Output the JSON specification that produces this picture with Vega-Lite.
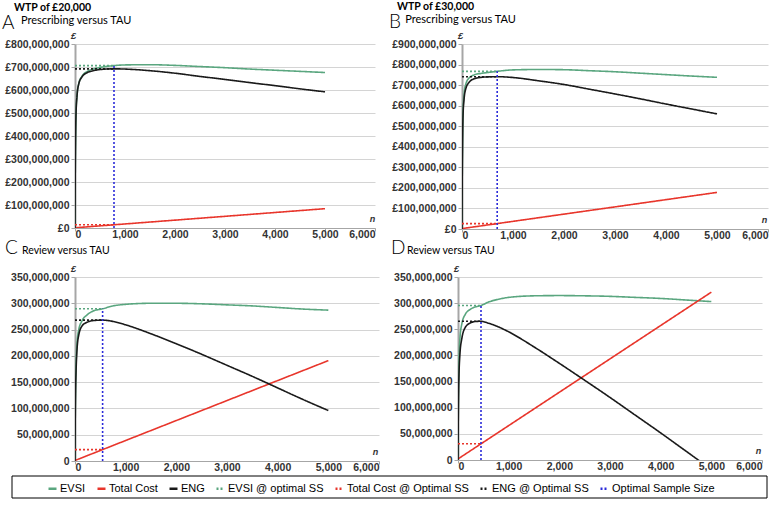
{
  "$schema": "https://vega.github.io/schema/vega-lite/v6.json",
  "padding": {"left": 2, "top": 1, "right": 0, "bottom": 0},
  "background": "white",
  "datasets": {
    "A": [
      {"s":"EVSI","n":0,"v":0},{"s":"EVSI","n":5,"v":250},{"s":"EVSI","n":10,"v":372},{"s":"EVSI","n":20,"v":495},{"s":"EVSI","n":40,"v":575},{"s":"EVSI","n":75,"v":628},{"s":"EVSI","n":140,"v":660},{"s":"EVSI","n":240,"v":680},{"s":"EVSI","n":350,"v":690},{"s":"EVSI","n":500,"v":698},{"s":"EVSI","n":780,"v":706},{"s":"EVSI","n":1000,"v":709},{"s":"EVSI","n":1500,"v":710},{"s":"EVSI","n":2000,"v":707},{"s":"EVSI","n":2500,"v":702},{"s":"EVSI","n":3000,"v":697},{"s":"EVSI","n":3500,"v":691},{"s":"EVSI","n":4000,"v":686},{"s":"EVSI","n":4500,"v":681},{"s":"EVSI","n":5000,"v":676},
      {"s":"Total Cost","n":0,"v":1},{"s":"Total Cost","n":5000,"v":84},
      {"s":"ENG","n":0,"v":0},{"s":"ENG","n":5,"v":249},{"s":"ENG","n":10,"v":371},{"s":"ENG","n":20,"v":494},{"s":"ENG","n":40,"v":573},{"s":"ENG","n":75,"v":626},{"s":"ENG","n":140,"v":657},{"s":"ENG","n":240,"v":675},{"s":"ENG","n":350,"v":683},{"s":"ENG","n":500,"v":689},{"s":"ENG","n":780,"v":692},{"s":"ENG","n":1000,"v":691},{"s":"ENG","n":1500,"v":684},{"s":"ENG","n":2000,"v":673},{"s":"ENG","n":2500,"v":659},{"s":"ENG","n":3000,"v":646},{"s":"ENG","n":3500,"v":632},{"s":"ENG","n":4000,"v":619},{"s":"ENG","n":4500,"v":605},{"s":"ENG","n":5000,"v":592},
      {"s":"EVSI @ optimal SS","n":0,"v":706},{"s":"EVSI @ optimal SS","n":780,"v":706},
      {"s":"Total Cost @ Optimal SS","n":0,"v":14},{"s":"Total Cost @ Optimal SS","n":780,"v":14},
      {"s":"ENG @ Optimal SS","n":0,"v":692},{"s":"ENG @ Optimal SS","n":780,"v":692},
      {"s":"Optimal Sample Size","n":780,"v":0},{"s":"Optimal Sample Size","n":780,"v":706}
    ],
    "B": [
      {"s":"EVSI","n":0,"v":0},{"s":"EVSI","n":5,"v":280},{"s":"EVSI","n":10,"v":420},{"s":"EVSI","n":20,"v":570},{"s":"EVSI","n":40,"v":655},{"s":"EVSI","n":75,"v":705},{"s":"EVSI","n":140,"v":735},{"s":"EVSI","n":240,"v":750},{"s":"EVSI","n":350,"v":756},{"s":"EVSI","n":500,"v":761},{"s":"EVSI","n":690,"v":767},{"s":"EVSI","n":1000,"v":774},{"s":"EVSI","n":1500,"v":776},{"s":"EVSI","n":2000,"v":775},{"s":"EVSI","n":2500,"v":770},{"s":"EVSI","n":3000,"v":765},{"s":"EVSI","n":3500,"v":758},{"s":"EVSI","n":4000,"v":751},{"s":"EVSI","n":4500,"v":744},{"s":"EVSI","n":5000,"v":738},
      {"s":"Total Cost","n":0,"v":2},{"s":"Total Cost","n":5000,"v":178},
      {"s":"ENG","n":0,"v":0},{"s":"ENG","n":5,"v":270},{"s":"ENG","n":10,"v":405},{"s":"ENG","n":20,"v":550},{"s":"ENG","n":40,"v":630},{"s":"ENG","n":75,"v":683},{"s":"ENG","n":140,"v":714},{"s":"ENG","n":240,"v":731},{"s":"ENG","n":350,"v":737},{"s":"ENG","n":500,"v":740},{"s":"ENG","n":690,"v":741},{"s":"ENG","n":1000,"v":737},{"s":"ENG","n":1500,"v":721},{"s":"ENG","n":2000,"v":703},{"s":"ENG","n":2500,"v":680},{"s":"ENG","n":3000,"v":657},{"s":"ENG","n":3500,"v":633},{"s":"ENG","n":4000,"v":608},{"s":"ENG","n":4500,"v":584},{"s":"ENG","n":5000,"v":560},
      {"s":"EVSI @ optimal SS","n":0,"v":767},{"s":"EVSI @ optimal SS","n":690,"v":767},
      {"s":"Total Cost @ Optimal SS","n":0,"v":26},{"s":"Total Cost @ Optimal SS","n":690,"v":26},
      {"s":"ENG @ Optimal SS","n":0,"v":741},{"s":"ENG @ Optimal SS","n":690,"v":741},
      {"s":"Optimal Sample Size","n":690,"v":0},{"s":"Optimal Sample Size","n":690,"v":767}
    ],
    "C": [
      {"s":"EVSI","n":0,"v":0},{"s":"EVSI","n":5,"v":90},{"s":"EVSI","n":10,"v":135},{"s":"EVSI","n":20,"v":180},{"s":"EVSI","n":40,"v":225},{"s":"EVSI","n":75,"v":250},{"s":"EVSI","n":140,"v":267},{"s":"EVSI","n":240,"v":278},{"s":"EVSI","n":350,"v":285},{"s":"EVSI","n":545,"v":289.5},{"s":"EVSI","n":750,"v":295},{"s":"EVSI","n":1000,"v":298},{"s":"EVSI","n":1500,"v":300},{"s":"EVSI","n":2000,"v":300},{"s":"EVSI","n":2500,"v":299},{"s":"EVSI","n":3000,"v":297},{"s":"EVSI","n":3500,"v":295},{"s":"EVSI","n":4000,"v":292},{"s":"EVSI","n":4500,"v":289},{"s":"EVSI","n":5000,"v":287},
      {"s":"Total Cost","n":0,"v":1},{"s":"Total Cost","n":5000,"v":191},
      {"s":"ENG","n":0,"v":0},{"s":"ENG","n":5,"v":85},{"s":"ENG","n":10,"v":128},{"s":"ENG","n":20,"v":168},{"s":"ENG","n":40,"v":212},{"s":"ENG","n":75,"v":240},{"s":"ENG","n":140,"v":257},{"s":"ENG","n":240,"v":264},{"s":"ENG","n":350,"v":267},{"s":"ENG","n":545,"v":268},{"s":"ENG","n":750,"v":265.5},{"s":"ENG","n":1000,"v":259},{"s":"ENG","n":1500,"v":242},{"s":"ENG","n":2000,"v":223},{"s":"ENG","n":2500,"v":203},{"s":"ENG","n":3000,"v":182},{"s":"ENG","n":3500,"v":161},{"s":"ENG","n":4000,"v":139},{"s":"ENG","n":4500,"v":117},{"s":"ENG","n":5000,"v":96},
      {"s":"EVSI @ optimal SS","n":0,"v":289.5},{"s":"EVSI @ optimal SS","n":545,"v":289.5},
      {"s":"Total Cost @ Optimal SS","n":0,"v":21.7},{"s":"Total Cost @ Optimal SS","n":545,"v":21.7},
      {"s":"ENG @ Optimal SS","n":0,"v":268},{"s":"ENG @ Optimal SS","n":545,"v":268},
      {"s":"Optimal Sample Size","n":545,"v":0},{"s":"Optimal Sample Size","n":545,"v":289.5}
    ],
    "D": [
      {"s":"EVSI","n":0,"v":0},{"s":"EVSI","n":5,"v":85},{"s":"EVSI","n":10,"v":135},{"s":"EVSI","n":20,"v":190},{"s":"EVSI","n":40,"v":235},{"s":"EVSI","n":75,"v":260},{"s":"EVSI","n":140,"v":278},{"s":"EVSI","n":240,"v":288},{"s":"EVSI","n":350,"v":293},{"s":"EVSI","n":454,"v":295.5},{"s":"EVSI","n":600,"v":302},{"s":"EVSI","n":800,"v":307.5},{"s":"EVSI","n":1000,"v":311},{"s":"EVSI","n":1500,"v":314},{"s":"EVSI","n":2000,"v":314.5},{"s":"EVSI","n":2500,"v":314},{"s":"EVSI","n":3000,"v":313},{"s":"EVSI","n":3500,"v":311},{"s":"EVSI","n":4000,"v":309},{"s":"EVSI","n":4500,"v":306},{"s":"EVSI","n":5000,"v":303},
      {"s":"Total Cost","n":0,"v":2},{"s":"Total Cost","n":5000,"v":321},
      {"s":"ENG","n":0,"v":0},{"s":"ENG","n":5,"v":78},{"s":"ENG","n":10,"v":122},{"s":"ENG","n":20,"v":165},{"s":"ENG","n":40,"v":205},{"s":"ENG","n":75,"v":232},{"s":"ENG","n":140,"v":253},{"s":"ENG","n":240,"v":262},{"s":"ENG","n":350,"v":265},{"s":"ENG","n":454,"v":265.3},{"s":"ENG","n":600,"v":261.7},{"s":"ENG","n":800,"v":254.5},{"s":"ENG","n":1000,"v":245.2},{"s":"ENG","n":1500,"v":216.3},{"s":"ENG","n":2000,"v":184.9},{"s":"ENG","n":2500,"v":152.5},{"s":"ENG","n":3000,"v":119.6},{"s":"ENG","n":3500,"v":85.7},{"s":"ENG","n":4000,"v":51.8},{"s":"ENG","n":4500,"v":16.9},{"s":"ENG","n":5000,"v":-18},
      {"s":"EVSI @ optimal SS","n":0,"v":295.5},{"s":"EVSI @ optimal SS","n":454,"v":295.5},
      {"s":"Total Cost @ Optimal SS","n":0,"v":31},{"s":"Total Cost @ Optimal SS","n":454,"v":31},
      {"s":"ENG @ Optimal SS","n":0,"v":265.3},{"s":"ENG @ Optimal SS","n":454,"v":265.3},
      {"s":"Optimal Sample Size","n":454,"v":0},{"s":"Optimal Sample Size","n":454,"v":295.5}
    ]
  },
  "vconcat": [
    {
      "vconcat": [
        {
          "hconcat": [
            {
              "width": 300, "height": 184,
              "title": {"text": "WTP of £20,000", "subtitle": "\u200b\u2002\u2009Prescribing versus TAU", "dx": 12, "dy": 16},
              "layer": [
                {
                  "data": {"name": "A"},
                  "mark": {"type": "line", "interpolate": "monotone", "clip": true, "strokeWidth": 1.6},
                  "encoding": {
                    "x": {"field": "n", "type": "quantitative", "scale": {"domain": [0, 6000], "nice": false}, "axis": {"values": [0,1000,2000,3000,4000,5000,6000], "format": ",d", "title": "n", "titleX": 297, "titleY": -7}},
                    "y": {"field": "v", "type": "quantitative", "scale": {"domain": [0, 800], "nice": false}, "axis": {"values": [0,100,200,300,400,500,600,700,800], "labelExpr": "'£' + format(datum.value * 1000000, ',d')", "title": "£", "titleX": -2, "titleY": -6}},
                    "color": {"field": "s", "type": "nominal", "scale": {"domain": ["EVSI","Total Cost","ENG","EVSI @ optimal SS","Total Cost @ Optimal SS","ENG @ Optimal SS","Optimal Sample Size"], "range": ["#5aa67f","#e8352b","#1a1a1a","#5aa67f","#e8352b","#1a1a1a","#2b2bd9"]}, "legend": {"orient": "none", "legendX": -28, "legendY": 439, "direction": "horizontal", "title": null}},
                    "strokeDash": {"field": "s", "type": "nominal", "scale": {"domain": ["EVSI","Total Cost","ENG","EVSI @ optimal SS","Total Cost @ Optimal SS","ENG @ Optimal SS","Optimal Sample Size"], "range": [[1,0],[1,0],[1,0],[2,2],[2,2],[2,2],[2,2]]}, "legend": {"orient": "none", "legendX": -28, "legendY": 439, "direction": "horizontal", "title": null}}
                  }
                },
                {
                  "data": {"values": [{}]},
                  "mark": {"type": "text", "text": "A", "x": -73, "y": -15, "align": "left", "baseline": "alphabetic", "font": "Lato", "fontSize": 19, "fontWeight": 300, "color": "black"}
                }
              ]
            },
            {
              "width": 306, "height": 185,
              "title": {"text": "WTP of £30,000", "subtitle": "\u200b\u2002\u2009\u2009Prescribing versus TAU", "dx": 8, "dy": 16},
              "layer": [
                {
                  "data": {"name": "B"},
                  "mark": {"type": "line", "interpolate": "monotone", "clip": true, "strokeWidth": 1.6},
                  "encoding": {
                    "x": {"field": "n", "type": "quantitative", "scale": {"domain": [0, 6000], "nice": false}, "axis": {"values": [0,1000,2000,3000,4000,5000,6000], "format": ",d", "title": "n", "titleX": 302, "titleY": -7}},
                    "y": {"field": "v", "type": "quantitative", "scale": {"domain": [0, 900], "nice": false}, "axis": {"values": [0,100,200,300,400,500,600,700,800,900], "labelExpr": "'£' + format(datum.value * 1000000, ',d')", "title": "£", "titleX": -2, "titleY": -6}},
                    "color": {"field": "s", "type": "nominal", "scale": {"domain": ["EVSI","Total Cost","ENG","EVSI @ optimal SS","Total Cost @ Optimal SS","ENG @ Optimal SS","Optimal Sample Size"], "range": ["#5aa67f","#e8352b","#1a1a1a","#5aa67f","#e8352b","#1a1a1a","#2b2bd9"]}, "legend": {"orient": "none", "legendX": -28, "legendY": 439, "direction": "horizontal", "title": null}},
                    "strokeDash": {"field": "s", "type": "nominal", "scale": {"domain": ["EVSI","Total Cost","ENG","EVSI @ optimal SS","Total Cost @ Optimal SS","ENG @ Optimal SS","Optimal Sample Size"], "range": [[1,0],[1,0],[1,0],[2,2],[2,2],[2,2],[2,2]]}, "legend": {"orient": "none", "legendX": -28, "legendY": 439, "direction": "horizontal", "title": null}}
                  }
                },
                {
                  "data": {"values": [{}]},
                  "mark": {"type": "text", "text": "B", "x": -73, "y": -16, "align": "left", "baseline": "alphabetic", "font": "Lato", "fontSize": 19, "fontWeight": 300, "color": "black"}
                }
              ]
            }
          ],
          "spacing": 13
        },
        {
          "hconcat": [
            {
              "width": 304, "height": 184,
              "title": {"text": "Review versus TAU", "fontWeight": "normal", "dx": 17, "dy": 21},
              "layer": [
                {
                  "data": {"name": "C"},
                  "mark": {"type": "line", "interpolate": "monotone", "clip": true, "strokeWidth": 1.6},
                  "encoding": {
                    "x": {"field": "n", "type": "quantitative", "scale": {"domain": [0, 6000], "nice": false}, "axis": {"values": [0,1000,2000,3000,4000,5000,6000], "format": ",d", "title": "n", "titleX": 300, "titleY": -7}},
                    "y": {"field": "v", "type": "quantitative", "scale": {"domain": [0, 350], "nice": false}, "axis": {"values": [0,50,100,150,200,250,300,350], "labelExpr": "format(datum.value * 1000000, ',d')", "title": "£", "titleX": -2, "titleY": -6}},
                    "color": {"field": "s", "type": "nominal", "scale": {"domain": ["EVSI","Total Cost","ENG","EVSI @ optimal SS","Total Cost @ Optimal SS","ENG @ Optimal SS","Optimal Sample Size"], "range": ["#5aa67f","#e8352b","#1a1a1a","#5aa67f","#e8352b","#1a1a1a","#2b2bd9"]}, "legend": {"orient": "none", "legendX": -28, "legendY": 439, "direction": "horizontal", "title": null}},
                    "strokeDash": {"field": "s", "type": "nominal", "scale": {"domain": ["EVSI","Total Cost","ENG","EVSI @ optimal SS","Total Cost @ Optimal SS","ENG @ Optimal SS","Optimal Sample Size"], "range": [[1,0],[1,0],[1,0],[2,2],[2,2],[2,2],[2,2]]}, "legend": {"orient": "none", "legendX": -28, "legendY": 439, "direction": "horizontal", "title": null}}
                  }
                },
                {
                  "data": {"values": [{}]},
                  "mark": {"type": "text", "text": "C", "x": -70, "y": -23, "align": "left", "baseline": "alphabetic", "font": "Lato", "fontSize": 19, "fontWeight": 300, "color": "black"}
                }
              ]
            },
            {
              "width": 304, "height": 183,
              "title": {"text": "Review versus TAU", "fontWeight": "normal", "dx": 16, "dy": 21},
              "layer": [
                {
                  "data": {"name": "D"},
                  "mark": {"type": "line", "interpolate": "monotone", "clip": true, "strokeWidth": 1.6},
                  "encoding": {
                    "x": {"field": "n", "type": "quantitative", "scale": {"domain": [0, 6000], "nice": false}, "axis": {"values": [0,1000,2000,3000,4000,5000,6000], "format": ",d", "title": "n", "titleX": 300, "titleY": -7}},
                    "y": {"field": "v", "type": "quantitative", "scale": {"domain": [0, 350], "nice": false}, "axis": {"values": [0,50,100,150,200,250,300,350], "labelExpr": "format(datum.value * 1000000, ',d')", "title": "£", "titleX": -2, "titleY": -6}},
                    "color": {"field": "s", "type": "nominal", "scale": {"domain": ["EVSI","Total Cost","ENG","EVSI @ optimal SS","Total Cost @ Optimal SS","ENG @ Optimal SS","Optimal Sample Size"], "range": ["#5aa67f","#e8352b","#1a1a1a","#5aa67f","#e8352b","#1a1a1a","#2b2bd9"]}, "legend": {"orient": "none", "legendX": -28, "legendY": 439, "direction": "horizontal", "title": null}},
                    "strokeDash": {"field": "s", "type": "nominal", "scale": {"domain": ["EVSI","Total Cost","ENG","EVSI @ optimal SS","Total Cost @ Optimal SS","ENG @ Optimal SS","Optimal Sample Size"], "range": [[1,0],[1,0],[1,0],[2,2],[2,2],[2,2],[2,2]]}, "legend": {"orient": "none", "legendX": -28, "legendY": 439, "direction": "horizontal", "title": null}}
                  }
                },
                {
                  "data": {"values": [{}]},
                  "mark": {"type": "text", "text": "D", "x": -67, "y": -23, "align": "left", "baseline": "alphabetic", "font": "Lato", "fontSize": 19, "fontWeight": 300, "color": "black"}
                }
              ]
            }
          ],
          "spacing": 11
        }
      ],
      "spacing": -2
    },
    {
      "width": 692, "height": 22,
      "view": {"stroke": null, "fill": null},
      "data": {"values": [{}]},
      "mark": {"type": "rect", "fill": null, "stroke": "black", "strokeWidth": 1, "x": -63, "x2": 692, "y": 0, "y2": 22}
    }
  ],
  "spacing": 2,
  "resolve": {"scale": {"color": "shared", "strokeDash": "shared"}, "legend": {"color": "shared", "strokeDash": "shared"}},
  "config": {
    "view": {"fill": "#f2f2f2", "stroke": null},
    "title": {"anchor": "start", "frame": "bounds", "font": "Lato", "fontSize": 10.5, "fontWeight": "bold", "color": "black", "subtitleFont": "Lato", "subtitleFontSize": 11, "subtitleColor": "black", "subtitlePadding": 2, "offset": 0},
    "axis": {"labelFont": "Liberation Sans", "labelFontSize": 10.5, "labelFontWeight": "bold", "labelColor": "#333333", "labelPadding": 2, "titleFont": "Liberation Sans", "titleFontSize": 9, "titleFontStyle": "italic", "titleFontWeight": "bold", "titleColor": "#333333", "titleAngle": 0, "titleAlign": "center", "titleBaseline": "alphabetic", "domainColor": "#a6a6a6", "tickColor": "#a6a6a6", "tickSize": 4, "gridColor": "#d4d4d4"},
    "axisX": {"grid": false, "domainWidth": 1, "tickSize": 3, "labelPadding": -2},
    "axisY": {"grid": true, "domainWidth": 2},
    "legend": {"symbolType": "stroke", "symbolSize": 64, "symbolStrokeWidth": 2.5, "labelFont": "Liberation Sans", "labelFontSize": 11, "labelColor": "black", "columnPadding": 6, "labelOffset": 2, "padding": 0}
  }
}
